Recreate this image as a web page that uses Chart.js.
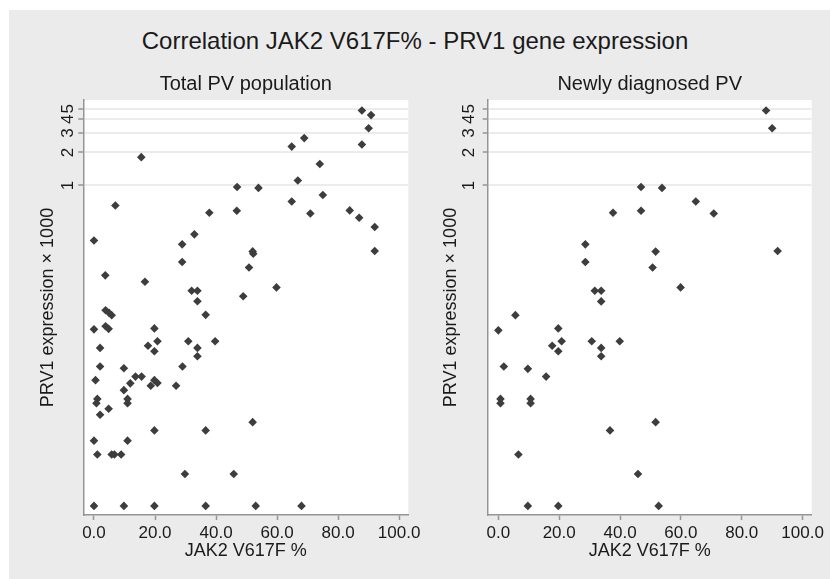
<!DOCTYPE html>
<html>
<head>
<meta charset="utf-8">
<script src="https://cdn.jsdelivr.net/npm/chart.js@4.4.1/dist/chart.umd.min.js"></script>
<style>
  html, body { margin: 0; padding: 0; background: #ffffff; }
  #page { position: relative; width: 830px; height: 579px; overflow: hidden; }
  #panel { position: absolute; left: 9px; top: 10px; right: 0; bottom: 0; background: #ebebeb; }
  #mainTitle { position: absolute; left: 0; top: 27px; width: 830px; text-align: center;
    font: 24px "Liberation Sans", Arial, sans-serif; line-height: 28px; color: #1a1a1a; }
  canvas { position: absolute; top: 60px; }
  #leftChart { left: 0; }
  #rightChart { left: 415px; }
</style>
</head>
<body>
<div id="page">
  <div id="panel"></div>
  <div id="mainTitle">Correlation JAK2 V617F% - PRV1 gene expression</div>
  <canvas id="leftChart" width="428" height="519"></canvas>
  <canvas id="rightChart" width="415" height="519"></canvas>
</div>
<script>
// Total PV population: JAK2 V617F % and PRV1 expression x 1000
const totalJak = [15.5, 46.9, 7.0, 46.8, 37.8, 32.9, 0, 28.9, 28.9, 3.7, 16.7, 32.0, 33.9, 33.9, 48.9,
  87.8, 90.8, 90.0, 68.9, 64.8, 87.8, 74.0, 66.8, 53.9, 75.0, 64.8, 70.9, 83.8, 86.9, 92.0, 92.0,
  52.0, 52.2, 50.8, 59.8, 36.6, 3.8, 4.9, 5.8, 3.8, 4.8, 0, 19.8, 2.0, 17.7, 20.8, 19.8, 30.9,
  33.9, 33.9, 39.7, 2.0, 9.8, 29.0, 0.5, 11.9, 13.6, 15.6, 19.8, 20.8, 18.6, 26.9, 9.8, 1.1, 0.8,
  11.0, 11.0, 4.8, 2.0, 19.8, 36.6, 0, 11.0, 1.1, 5.8, 6.7, 8.9, 29.8, 45.8, 0, 9.8, 19.8, 36.6,
  52.0, 53.0, 68.0];
const totalPrv = [1.81, 0.97, 0.658, 0.589, 0.565, 0.359, 0.316, 0.291, 0.201, 0.152, 0.133, 0.110, 0.110, 0.0882, 0.098,
  4.81, 4.37, 3.32, 2.70, 2.26, 2.36, 1.57, 1.11, 0.95, 0.818, 0.715, 0.556, 0.593, 0.508, 0.419, 0.253,
  0.251, 0.239, 0.179, 0.118, 0.0664, 0.0731, 0.0694, 0.0658, 0.0523, 0.0495, 0.049, 0.050, 0.0332, 0.0347, 0.0382, 0.031, 0.0382,
  0.0332, 0.0279, 0.0382, 0.0225, 0.0217, 0.0225, 0.0169, 0.0158, 0.0182, 0.0182, 0.0169, 0.0159, 0.0150, 0.0150, 0.0137, 0.0114, 0.0104,
  0.0114, 0.0104, 0.00927, 0.00818, 0.00589, 0.00589, 0.00475, 0.00475, 0.00356, 0.00356, 0.00356, 0.00356, 0.00236, 0.00236, 0.00121, 0.00121, 0.00121, 0.00121,
  0.0070, 0.00121, 0.00121];

// Newly diagnosed PV
const newJak = [88.0, 90.0, 46.9, 53.8, 46.9, 37.7, 64.9, 70.8, 28.6, 28.6, 51.7, 50.7, 91.8, 31.7, 33.8, 33.8,
  59.9, 5.6, 0, 19.7, 17.7, 20.8, 19.7, 30.7, 33.8, 33.8, 39.9, 1.8, 9.7, 15.7, 0.7, 0.7, 10.6, 10.6,
  51.7, 36.7, 6.6, 45.9, 9.7, 19.7, 52.7];
const newPrv = [4.81, 3.32, 0.97, 0.95, 0.589, 0.565, 0.715, 0.556, 0.291, 0.201, 0.25, 0.179, 0.253, 0.110, 0.110, 0.088,
  0.118, 0.066, 0.048, 0.050, 0.0347, 0.0382, 0.031, 0.0382, 0.0332, 0.0279, 0.0382, 0.0225, 0.0214, 0.0182, 0.0114, 0.0104, 0.0114, 0.0104,
  0.0070, 0.00589, 0.00356, 0.00236, 0.00121, 0.00121, 0.00121];

const yTickValues = [1, 2, 3, 4, 5];
const yTickLabels = ['1', '2', '3', '4', '5'];
const xTickValues = [0, 20, 40, 60, 80, 100];
const xTickLabels = ['0.0', '20.0', '40.0', '60.0', '80.0', '100.0'];

const FONT = '"Liberation Sans", Arial, sans-serif';
const TEXT = '#1a1a1a';
const AXIS = '#959595';

// white plot region on the grey page
const plotBg = {
    id: 'plotBg',
    beforeDraw(chart) {
        const { ctx, chartArea: a } = chart;
        ctx.save();
        ctx.fillStyle = '#ffffff';
        ctx.fillRect(a.left, a.top, a.right - a.left, a.bottom - a.top);
        ctx.restore();
    }
};

function makeChart(id, title, xs, ys, lay) {
    const pts = xs.map((x, i) => ({ x: x, y: ys[i] }));
    return new Chart(document.getElementById(id), {
        type: 'scatter',
        data: {
            datasets: [{
                data: pts,
                pointStyle: 'rectRot',
                pointRadius: 4.3,
                pointBackgroundColor: '#3d3d3d',
                pointBorderWidth: 0
            }]
        },
        options: {
            responsive: false,
            animation: false,
            devicePixelRatio: 1,
            layout: { padding: { left: 0, right: lay.padRight, top: 0, bottom: 0 } },
            plugins: {
                legend: { display: false },
                tooltip: { enabled: false },
                title: {
                    display: true,
                    fullSize: false, // centre over the plot, not the canvas
                    text: title,
                    color: TEXT,
                    font: { family: FONT, size: 20, weight: 'normal', lineHeight: 1.2 },
                    padding: { top: 12, bottom: 4 }
                }
            },
            scales: {
                x: {
                    type: 'linear',
                    min: -3.5,
                    max: 103,
                    afterBuildTicks: s => { s.ticks = xTickValues.map(v => ({ value: v })); },
                    afterFit: s => { s.height = 64; },
                    ticks: {
                        autoSkip: false,
                        maxRotation: 0,
                        padding: 3,
                        color: TEXT,
                        font: { family: FONT, size: 17 },
                        callback: (v, i) => xTickLabels[i]
                    },
                    grid: { drawOnChartArea: false, drawTicks: true, tickLength: 5, tickColor: AXIS, tickWidth: 1.5 },
                    border: { color: AXIS, width: 1.5 },
                    title: {
                        display: true,
                        text: 'JAK2 V617F %',
                        color: TEXT,
                        font: { family: FONT, size: 18, lineHeight: 1.2 },
                        padding: { top: 0, bottom: 16.7 }
                    }
                },
                y: {
                    type: 'logarithmic',
                    min: 0.001,
                    max: 6,
                    afterBuildTicks: s => { s.ticks = yTickValues.map(v => ({ value: v })); },
                    afterFit: s => { s.width = lay.yWidth; },
                    ticks: {
                        autoSkip: false,
                        minRotation: 90,
                        maxRotation: 90,
                        crossAlign: 'center',
                        padding: lay.tickPad,
                        color: TEXT,
                        font: { family: FONT, size: 17 },
                        callback: (v, i) => yTickLabels[i]
                    },
                    grid: { color: '#ececec', lineWidth: 2, tickLength: 5, tickColor: AXIS, tickWidth: 1.5 },
                    border: { color: AXIS, width: 1.5 },
                    title: {
                        display: true,
                        text: 'PRV1 expression × 1000',
                        color: TEXT,
                        font: { family: FONT, size: 18, lineHeight: 1.2 },
                        padding: { top: lay.titlePad, bottom: 0 }
                    }
                }
            }
        },
        plugins: [plotBg]
    });
}

makeChart('leftChart', 'Total PV population', totalJak, totalPrv,
    { yWidth: 83.3, padRight: 19.7, tickPad: 5.6, titlePad: 37.7 });
makeChart('rightChart', 'Newly diagnosed PV', newJak, newPrv,
    { yWidth: 72.7, padRight: 18.3, tickPad: 8.7, titlePad: 25.2 });
</script>
</body>
</html>
